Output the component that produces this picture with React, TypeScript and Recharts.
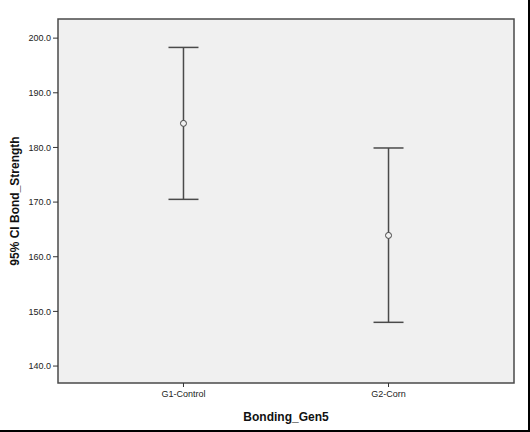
import { ComposedChart, Scatter, ErrorBar, XAxis, YAxis, ReferenceArea } from 'recharts'

const categories = ['G1-Control', 'G2-Corn']
const means = [184.4, 163.9]
const lowerCI = [170.5, 148.0]
const upperCI = [198.3, 179.9]
const yTicks = [140, 150, 160, 170, 180, 190, 200]

const X_DOMAIN: [number, number] = [-0.612, 1.612]
const Y_DOMAIN: [number, number] = [136.9, 203.5]

const data = categories.map((name, i) => ({
  x: i,
  name,
  mean: means[i],
  err: [means[i] - lowerCI[i], upperCI[i] - means[i]],
}))

const font = 'Arial, "Liberation Sans", sans-serif'

const MeanDot = (props: any) => {
  const { cx, cy } = props
  if (cx == null || cy == null) return null
  return <circle cx={cx} cy={cy} r={3} fill="#f0f0f0" stroke="#444" strokeWidth={1} />
}

export default function App() {
  return (
    <div style={{ position: 'absolute', left: 0, top: 0, width: 530, height: 432, background: '#fff', fontFamily: font }}>
      <ComposedChart width={530} height={432} data={data} margin={{ top: 19, right: 16, bottom: 0, left: 0 }}>
        <ReferenceArea
          x1={X_DOMAIN[0]} x2={X_DOMAIN[1]} y1={Y_DOMAIN[0]} y2={Y_DOMAIN[1]}
          fill="#f0f0f0" fillOpacity={1} stroke="#4a4a4a" strokeWidth={1.5}
        />
        <XAxis
          type="number" dataKey="x" domain={X_DOMAIN} ticks={[0, 1]} allowDataOverflow
          tickFormatter={(v: number) => categories[v] ?? ''}
          axisLine={false} tickLine={{ stroke: '#333' }} tickSize={4}
          tick={{ fontSize: 9, fill: '#222', fontFamily: font, dy: 2 }} height={49}
          label={{ value: 'Bonding_Gen5', position: 'insideBottom', offset: 11, style: { fontSize: 12, fontWeight: 'bold', fill: '#111', fontFamily: font } }}
        />
        <YAxis
          type="number" domain={Y_DOMAIN} ticks={yTicks} allowDataOverflow
          tickFormatter={(v: number) => v.toFixed(1)}
          axisLine={false} tickLine={{ stroke: '#333' }} tickSize={5} width={58}
          tick={{ fontSize: 9, fill: '#222', fontFamily: font }}
          label={{ value: '95% CI Bond_Strength', angle: -90, position: 'insideLeft', offset: 15, style: { fontSize: 12, fontWeight: 'bold', fill: '#111', fontFamily: font, textAnchor: 'middle' } }}
        />
        <Scatter dataKey="mean" shape={<MeanDot />} isAnimationActive={false}>
          <ErrorBar dataKey="err" direction="y" width={15} stroke="#4a4a4a" strokeWidth={1.5} isAnimationActive={false} />
        </Scatter>
      </ComposedChart>
      <div style={{ position: 'absolute', right: 0, top: 0, width: 2, height: 432, background: '#000' }} />
      <div style={{ position: 'absolute', left: 0, bottom: 0, width: 530, height: 2, background: '#000' }} />
    </div>
  )
}
